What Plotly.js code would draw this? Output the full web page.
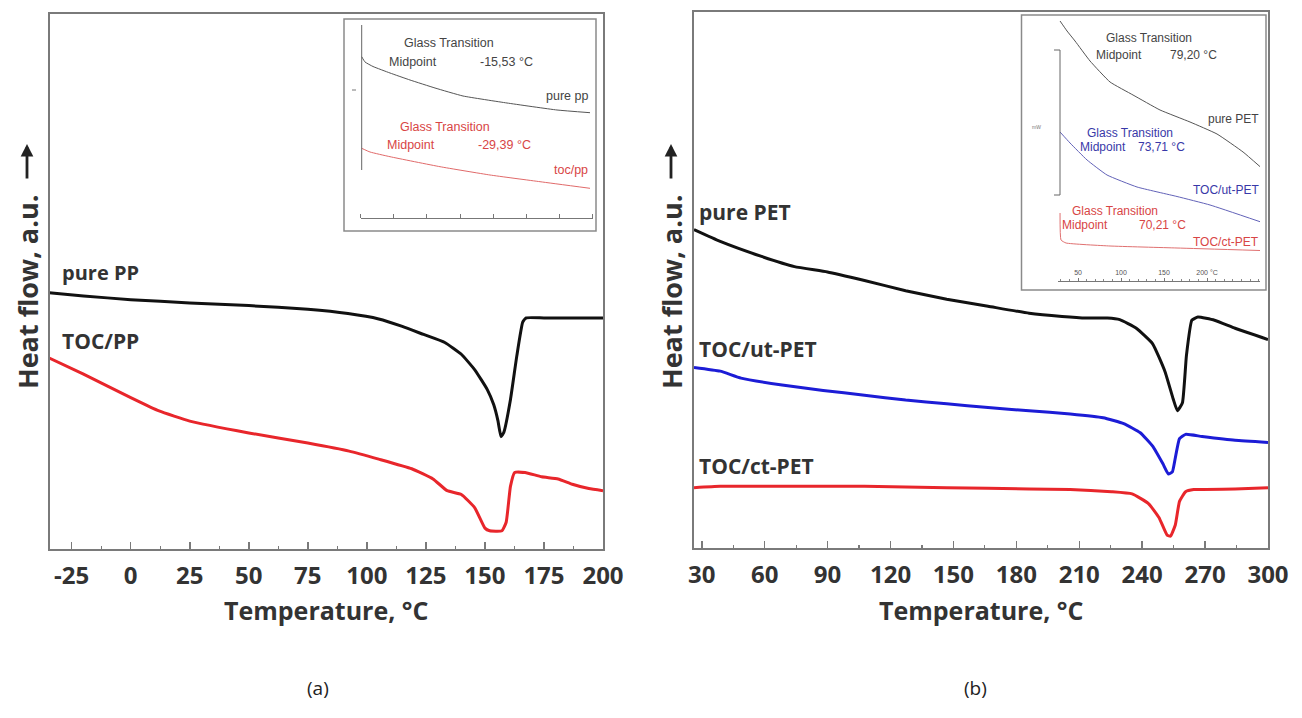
<!DOCTYPE html>
<html>
<head>
<meta charset="utf-8">
<script src="https://cdn.plot.ly/plotly-3.0.1.min.js"></script>
<style>html,body{margin:0;padding:0;background:#fff;}#chart{width:1302px;height:718px;}</style>
</head>
<body>
<div id="chart"></div>
<script>
// ---------- (a) PP panel data ----------
const ppPureT  = [-34.5, -20, 0, 25, 50, 75, 92, 105, 115, 124, 133, 140, 145.7, 151, 153.7, 155.5, 156.8, 158, 160.8, 163.5, 166, 167.5, 175, 200];
const ppPureHF = [47.9, 47.3, 46.6, 46.0, 45.5, 44.8, 44.0, 43.0, 41.6, 40.1, 38.6, 36.4, 33.5, 29.8, 27.0, 24.0, 21.0, 21.8, 27.9, 36.1, 42.4, 43.2, 43.2, 43.2];
const ppTocT   = [-34.5, -20, 0, 12, 25, 50, 75, 92.5, 105, 119, 128, 134, 140, 145.7, 150, 152, 157.2, 159, 160.8, 162.6, 167, 174, 181, 187, 194, 200];
const ppTocHF  = [35.7, 32.7, 28.3, 25.8, 23.9, 21.7, 19.8, 18.3, 16.8, 15.0, 13.1, 10.9, 10.2, 7.7, 3.9, 3.4, 3.4, 5.0, 11.7, 14.3, 14.3, 13.5, 13.1, 12.1, 11.3, 10.9];
const ppTicks  = [-25, 0, 25, 50, 75, 100, 125, 150, 175, 200];
const ppTickText = ['-25', '0', '25', '50', '75', '100', '125', '150', '175', '200'];

// ---------- (b) PET panel data ----------
const petPureT  = [26.3, 38.8, 58.5, 74.2, 89.9, 107.6, 127.2, 146.8, 166.5, 186.1, 201.8, 213.6, 223.4, 229.3, 237.2, 245, 250.9, 254.8, 256.8, 259.2, 261.1, 263.7, 266.6, 274.5, 284.3, 300];
const petPureHF = [59.4, 57.2, 54.4, 52.5, 51.5, 49.9, 48.0, 46.4, 45.1, 43.8, 43.2, 42.9, 42.9, 42.6, 41.0, 38.1, 32.9, 27.8, 25.6, 27.1, 35.9, 42.5, 43.1, 42.5, 41.0, 38.9];
const petUtT    = [26.3, 38.8, 48.7, 68.3, 87.9, 107.6, 127.2, 146.8, 166.5, 186.1, 205.7, 221.4, 231.2, 239.1, 245, 249.9, 252.5, 254.4, 255.8, 257.8, 260.7, 268.6, 284.3, 300];
const petUtHF   = [33.7, 33.0, 31.7, 30.4, 29.4, 28.5, 27.6, 26.9, 26.2, 25.6, 25.0, 24.3, 23.2, 21.5, 19.0, 15.7, 13.8, 14.2, 16.8, 20.4, 21.2, 20.8, 20.1, 19.7];
const petCtT    = [26.3, 38.8, 68.3, 107.6, 146.8, 186.1, 205.7, 225.4, 235.2, 243, 248, 251.9, 253.5, 255.8, 257.8, 260.7, 264.6, 284.3, 300];
const petCtHF   = [11.25, 11.5, 11.5, 11.5, 11.25, 11.0, 10.9, 10.5, 10.1, 8.3, 5.7, 2.4, 2.2, 4.3, 8.7, 10.5, 10.9, 11.0, 11.25];
const petTicks  = [30, 60, 90, 120, 150, 180, 210, 240, 270, 300];

// ---------- inset (a) data ----------
const insAPureT  = [-69.67, -68.67, -66.26, -61.13, -55.1, -47.55, -39.1, -25.83, -10.74, -0.78];
const insAPureHF = [174.3, 169, 164.5, 158, 151, 143, 135, 128, 121, 118.3];
const insATocT   = [-69.67, -67.16, -61.13, -46.04, -30.96, -15.87, -0.78];
const insATocHF  = [82.7, 79, 74.3, 64.3, 56, 49.3, 42.7];
const insATicks  = [-70, -60, -50, -40, -30, -20, -10, 0];

// ---------- inset (b) data ----------
const insBPureT  = [29.07, 37.2, 46.5, 63.95, 87.2, 113.95, 145.35, 180.2, 211.6, 241.9, 261.6];
const insBPureHF = [269, 259, 249, 229, 208, 195, 180, 168, 156, 138, 123.4];
const insBUtT    = [29.07, 40.7, 60.5, 83.7, 118.6, 165.1, 203.5, 261.6];
const insBUtHF   = [158, 147, 130, 115, 103, 93.5, 85, 68.3];
const insBCtT    = [29.07, 30.2, 36.0, 87.2, 165.1, 261.6];
const insBCtHF   = [77, 50, 47, 44, 42, 39.5];
const insBTicks  = [50, 100, 150, 200];
const insBTickText = ['50', '100', '150', '200 °C'];

// ---------- helpers ----------
const W = 1302, H = 718;
const px = x => x / W;
const py = y => 1 - y / H;

const BLACK = '#111111', RED = '#e8262b', BLUE = '#1c1cd6';
const AXC = '#7a7a7a';
const FONT = 'Open Sans';

function line(x, y, xa, ya, color, width) {
  return {x: x, y: y, xaxis: xa, yaxis: ya, type: 'scatter', mode: 'lines',
          line: {color: color, width: width, shape: 'spline', smoothing: 0.4},
          hoverinfo: 'skip'};
}

const traces = [
  line(ppPureT, ppPureHF, 'x', 'y', BLACK, 3),
  line(ppTocT, ppTocHF, 'x', 'y', RED, 3),
  line(petPureT, petPureHF, 'x2', 'y2', BLACK, 3),
  line(petUtT, petUtHF, 'x2', 'y2', BLUE, 3),
  line(petCtT, petCtHF, 'x2', 'y2', RED, 3),
  line(insAPureT, insAPureHF, 'x3', 'y3', '#555555', 1),
  line(insATocT, insATocHF, 'x3', 'y3', '#e06a6a', 1),
  line(insBPureT, insBPureHF, 'x4', 'y4', '#555555', 1),
  line(insBUtT, insBUtHF, 'x4', 'y4', '#6262b8', 1),
  line(insBCtT, insBCtHF, 'x4', 'y4', '#e07070', 1)
];

const tickFont = {family: FONT, size: 24, color: '#333333', weight: 'bold'};

function mainX(domain, range, tickvals, ticktext, minorDt, tick0, anchor) {
  return {domain: domain, range: range, anchor: anchor,
          tickmode: 'array', tickvals: tickvals, ticktext: ticktext,
          ticks: 'inside', ticklen: 7, tickwidth: 1.5, tickcolor: AXC,
          minor: {tickmode: 'linear', tick0: tick0, dtick: minorDt, ticks: 'inside', ticklen: 3, tickwidth: 1.2, tickcolor: AXC},
          showline: true, mirror: true, linecolor: AXC, linewidth: 2,
          showgrid: false, zeroline: false, tickfont: tickFont, ticklabelstandoff: 4,
          fixedrange: true};
}
function mainY(domain, anchor) {
  return {domain: domain, range: [0, 100], anchor: anchor, showticklabels: false, ticks: '',
          showline: true, mirror: true, linecolor: AXC, linewidth: 2,
          showgrid: false, zeroline: false, fixedrange: true};
}

const xa = mainX([px(49.5), px(603)], [-34.4, 200], ppTicks, ppTickText, 12.5, -25, 'y');
const xa2 = mainX([px(694), px(1268)], [26.3, 300], petTicks, petTicks.map(String), 15, 30, 'y2');

const insFont = (c, s) => ({family: 'Liberation Sans', size: s, color: c});

const annotations = [];
function ann(text, x, y, opts) {
  annotations.push(Object.assign({text: text, x: px(x), y: py(y), xref: 'paper', yref: 'paper',
    showarrow: false, xanchor: 'center', yanchor: 'middle'}, opts || {}));
}
const labFont = {family: FONT, size: 21, color: '#333333', weight: 'bold'};
ann('pure PP', 60, 272, {xanchor: 'left', font: {family: FONT, size: 20, color: '#333333', weight: 'bold'}});
ann('TOC/PP', 60, 341, {xanchor: 'left', font: labFont});
ann('pure PET', 697, 212, {xanchor: 'left', font: labFont});
ann('TOC/ut-PET', 697, 349, {xanchor: 'left', font: labFont});
ann('TOC/ct-PET', 697, 466, {xanchor: 'left', font: labFont});

const titFont = {family: FONT, size: 25, color: '#333333', weight: 'bold'};
ann('Temperature, °C', 326, 610, {font: titFont});
ann('Temperature, °C', 981, 610, {font: titFont});
const yTitFont = {family: FONT, size: 27, color: '#333333', weight: 'bold'};
ann('Heat flow, a.u.', 27, 292, {font: yTitFont, textangle: -90});
ann('Heat flow, a.u.', 671, 292, {font: yTitFont, textangle: -90});
[27, 671].forEach(function (xx) {
  annotations.push({text: '', x: px(xx), y: py(144), xref: 'paper', yref: 'paper', showarrow: true,
    ax: 0, ay: 36, arrowhead: 2, arrowsize: 0.9, arrowwidth: 2.8, arrowcolor: '#222222'});
});
ann('(a)', 318, 688, {font: {family: FONT, size: 19, color: '#222222'}});
ann('(b)', 975, 688, {font: {family: FONT, size: 19, color: '#222222'}});

// inset (a) texts
const gA = '#444444', rA = '#d84545';
ann('Glass Transition', 449, 43, {font: insFont(gA, 12.5)});
ann('Midpoint', 413, 62, {font: insFont(gA, 12.5)});
ann('-15,53 °C', 506, 62, {font: insFont(gA, 12.5)});
ann('pure pp', 590, 96, {xanchor: 'right', font: insFont(gA, 12.5)});
ann('Glass Transition', 445, 127, {font: insFont(rA, 12.5)});
ann('Midpoint', 411, 145, {font: insFont(rA, 12.5)});
ann('-29,39 °C', 504, 145, {font: insFont(rA, 12.5)});
ann('toc/pp', 590, 170, {xanchor: 'right', font: insFont(rA, 12.5)});

// inset (b) texts
const bB = '#3838a8';
ann('Glass Transition', 1149, 38, {font: insFont(gA, 12)});
ann('Midpoint', 1119, 55, {font: insFont(gA, 12)});
ann('79,20 °C', 1193, 55, {font: insFont(gA, 12)});
ann('pure PET', 1261, 119, {xanchor: 'right', font: insFont(gA, 12)});
ann('Glass Transition', 1130, 133, {font: insFont(bB, 12)});
ann('Midpoint', 1103, 147, {font: insFont(bB, 12)});
ann('73,71 °C', 1161, 147, {font: insFont(bB, 12)});
ann('TOC/ut-PET', 1261, 190, {xanchor: 'right', font: insFont(bB, 12)});
ann('Glass Transition', 1115, 211, {font: insFont(rA, 12)});
ann('Midpoint', 1085, 225, {font: insFont(rA, 12)});
ann('70,21 °C', 1162, 225, {font: insFont(rA, 12)});
ann('TOC/ct-PET', 1261, 242, {xanchor: 'right', font: insFont(rA, 12)});
ann('mW', 1036, 127, {font: insFont('#777777', 5)});

function seg(x0, y0, x1, y1, color, w) {
  return {type: 'line', xref: 'paper', yref: 'paper', x0: px(x0), y0: py(y0), x1: px(x1), y1: py(y1),
          line: {color: color, width: w}};
}
const shapes = [
  {type: 'rect', xref: 'paper', yref: 'paper', x0: px(344), x1: px(596), y0: py(231), y1: py(19),
   line: {color: '#8a8a8a', width: 1.5}, fillcolor: 'rgba(0,0,0,0)'},
  {type: 'rect', xref: 'paper', yref: 'paper', x0: px(1021.5), x1: px(1266), y0: py(290), y1: py(15),
   line: {color: '#8a8a8a', width: 1.5}, fillcolor: 'rgba(0,0,0,0)'},
  seg(361.7, 25, 361.7, 170, '#666666', 1),
  seg(352, 90, 356, 90, '#777777', 1),
  seg(1060, 50, 1060, 195, '#666666', 1),
  seg(1054, 50, 1060, 50, '#666666', 1),
  seg(1054, 195, 1060, 195, '#666666', 1)
];

const layout = {
  width: W, height: H,
  margin: {l: 0, r: 0, t: 0, b: 0},
  paper_bgcolor: '#ffffff', plot_bgcolor: '#ffffff',
  showlegend: false,
  xaxis: xa,
  yaxis: mainY([py(549), py(14)], 'x'),
  xaxis2: xa2,
  yaxis2: mainY([py(548), py(12)], 'x2'),
  xaxis3: {domain: [px(360.6), px(592.6)], range: [-70, 0], anchor: 'free', position: py(218), side: 'top',
           tickmode: 'array', tickvals: insATicks, ticks: 'outside', ticklen: 4, tickcolor: '#777777',
           showticklabels: false, showline: true, linecolor: '#777777', linewidth: 1,
           showgrid: false, zeroline: false, fixedrange: true},
  yaxis3: {domain: [py(231), py(19)], range: [0, 212], anchor: 'x3', visible: false, fixedrange: true},
  xaxis4: {domain: [px(1058), px(1260)], range: [26.7, 261.6], anchor: 'free', position: py(280.5), side: 'top',
           tickmode: 'array', tickvals: insBTicks, ticktext: insBTickText, ticks: 'outside', ticklen: 3,
           tickcolor: '#777777', tickfont: insFont('#555555', 7),
           minor: {tickmode: 'linear', tick0: 0, dtick: 10, ticks: 'outside', ticklen: 2, tickcolor: '#888888'},
           showline: true, linecolor: '#777777', linewidth: 1,
           showgrid: false, zeroline: false, fixedrange: true},
  yaxis4: {domain: [py(290), py(15)], range: [0, 275], anchor: 'x4', visible: false, fixedrange: true},
  annotations: annotations,
  shapes: shapes
};

Plotly.newPlot('chart', traces, layout, {displayModeBar: false, staticPlot: true});
</script>
</body>
</html>
